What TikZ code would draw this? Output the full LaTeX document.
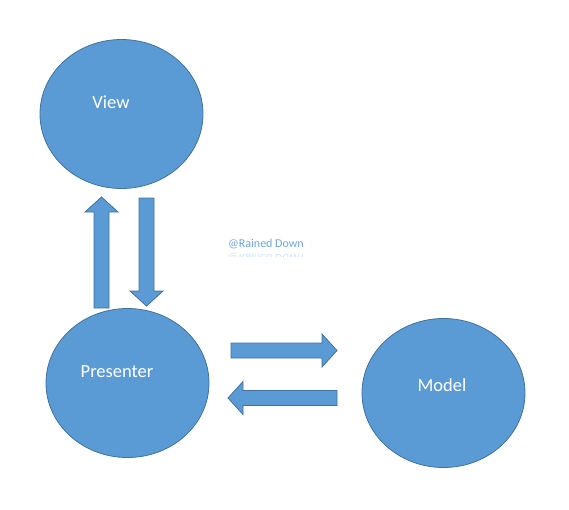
\documentclass[tikz,border=0pt]{standalone}
\usepackage{fontspec}
\setmainfont{Carlito}
\usetikzlibrary{shapes.geometric}
\definecolor{OfficeBlue}{RGB}{91,155,213}
\definecolor{OfficeEdge}{RGB}{65,113,156}
\definecolor{MarkBlue}{RGB}{108,166,224}
\colorlet{ColourFill}{OfficeBlue}
\colorlet{ColourEdge}{OfficeEdge}
\tikzset{
  mvp node/.style={
    ellipse,
    draw=ColourEdge,
    fill=ColourFill,
    line width=.8pt,
    minimum width=163pt,
    minimum height=149pt,
    inner sep=0pt
  },
  mvp label/.style={
    text=white,
    font=\fontsize{18.5}{22}\selectfont,
    inner sep=0pt
  },
  block arrow/.style={
    draw=ColourEdge,
    fill=ColourFill,
    line width=.8pt,
    line join=miter
  },
  watermark/.style={
    text=MarkBlue,
    font=\fontsize{12}{14}\selectfont,
    inner sep=0pt
  },
  pics/fat arrow/.style={
    code={
      \draw[block arrow] (0,-7.5) -- (#1-15,-7.5) -- (#1-15,-16.5) -- (#1,0)
        -- (#1-15,16.5) -- (#1-15,7.5) -- (0,7.5) -- cycle;
    }
  },
}

\begin{document}
\begin{tikzpicture}[x=1pt,y=-1pt]
  \useasboundingbox (0,0) rectangle (569,509);
  % the three parts
  \node[mvp node] (view) at (121.5,114) {};
  \node[mvp node] (presenter) at (127.5,383) {};
  \node[mvp node] (model) at (443.5,393) {};
  \node[mvp label] (view text) at (111,102) {View};
  \node[mvp label] (presenter text) at (117,372) {Presenter};
  \node[mvp label] (model text) at (442,385) {Model};
  % block arrows
  \pic[rotate=90] (up) at (101.5,308) {fat arrow=111};
  \pic[rotate=-90] (down) at (146.5,198) {fat arrow=108};
  \pic (right) at (231,350.5) {fat arrow=106};
  \pic[rotate=180] (left) at (337,398) {fat arrow=109};
  % watermark
  \node[watermark] (mark) at (266,244.5) {@Rained Down};
  \begin{scope}
    \clip (220,250) rectangle (320,256);
    \node[watermark,yscale=-1,opacity=.3] (mark mirror) at (266,257.5) {@Rained Down};
  \end{scope}
\end{tikzpicture}
\end{document}
